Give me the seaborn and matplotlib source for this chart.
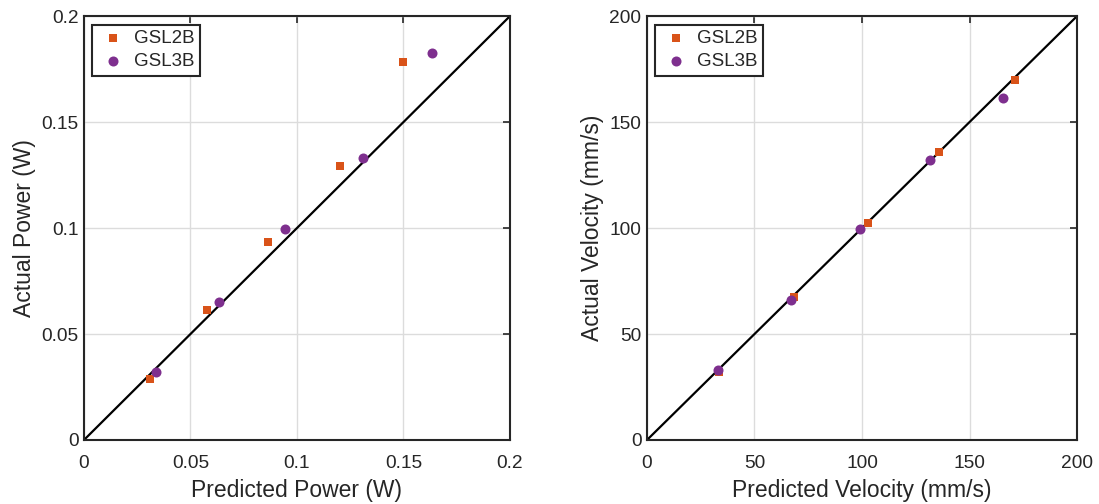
import matplotlib
matplotlib.use("Agg")
import matplotlib.pyplot as plt
import seaborn as sns
import pandas as pd

# ---- data ----
series_names = ["GSL2B", "GSL3B"]
power_pred_2b = [0.031, 0.058, 0.0865, 0.120, 0.1496]
power_act_2b = [0.029, 0.0614, 0.0933, 0.1294, 0.1783]
power_pred_3b = [0.034, 0.0635, 0.0945, 0.131, 0.1635]
power_act_3b = [0.0323, 0.065, 0.0995, 0.133, 0.1827]

vel_pred_2b = [33.6, 68.5, 102.7, 135.6, 171.0]
vel_act_2b = [32.0, 67.5, 102.2, 135.8, 170.0]
vel_pred_3b = [32.8, 66.8, 99.3, 131.5, 165.6]
vel_act_3b = [33.1, 65.9, 99.5, 132.2, 161.5]

power_ticks = [0, 0.05, 0.1, 0.15, 0.2]
power_tick_labels = ["0", "0.05", "0.1", "0.15", "0.2"]
vel_ticks = [0, 50, 100, 150, 200]
vel_tick_labels = ["0", "50", "100", "150", "200"]

colors = {"GSL2B": "#D95319", "GSL3B": "#7E2F8E"}
markers = {"GSL2B": "s", "GSL3B": "o"}
msizes = {"GSL2B": 34, "GSL3B": 52}

power_df = pd.DataFrame({
    "pred": power_pred_2b + power_pred_3b,
    "act": power_act_2b + power_act_3b,
    "series": ["GSL2B"] * len(power_pred_2b) + ["GSL3B"] * len(power_pred_3b),
})
vel_df = pd.DataFrame({
    "pred": vel_pred_2b + vel_pred_3b,
    "act": vel_act_2b + vel_act_3b,
    "series": ["GSL2B"] * len(vel_pred_2b) + ["GSL3B"] * len(vel_pred_3b),
})

sns.set_style("white")
plt.rcParams["font.family"] = ["Liberation Sans", "DejaVu Sans"]

fig = plt.figure(figsize=(10.99, 5.04), dpi=100)
ax1 = fig.add_axes([0.0764, 0.127, 0.3876, 0.841])
ax2 = fig.add_axes([0.5887, 0.127, 0.3913, 0.841])


def draw(ax, df, ticks, labels, lim, xlabel, ylabel):
    ax.grid(True, color="#dcdcdc", linewidth=1.0, zorder=0)
    ax.set_axisbelow(True)
    ax.plot(lim, lim, color="black", linewidth=1.6, zorder=2)
    for name in series_names:
        sub = df[df["series"] == name]
        sns.scatterplot(data=sub, x="pred", y="act", ax=ax, color=colors[name],
                        marker=markers[name], s=msizes[name], linewidth=0,
                        label=name, zorder=3)
    ax.set_xlim(lim)
    ax.set_ylim(lim)
    ax.set_xticks(ticks)
    ax.set_xticklabels(labels)
    ax.set_yticks(ticks)
    ax.set_yticklabels(labels)
    ax.tick_params(direction="in", length=5, width=1.2, labelsize=13.8,
                   top=True, right=True, colors="#262626", labelcolor="#262626")
    ax.tick_params(axis="x", pad=11)
    ax.tick_params(axis="y", pad=4)
    ax.set_xlabel(xlabel, fontsize=16.5, color="#262626", labelpad=5)
    ax.set_ylabel(ylabel, fontsize=16.5, color="#262626", labelpad=4)
    for sp in ax.spines.values():
        sp.set_visible(True)
        sp.set_color("#262626")
        sp.set_linewidth(1.5)
    leg = ax.legend(loc="upper left", fontsize=13.5, frameon=True, fancybox=False,
                    edgecolor="#262626", framealpha=1, borderpad=0.3,
                    handletextpad=0.3, borderaxespad=0.45, labelspacing=0.3,
                    handlelength=1.6)
    leg.get_frame().set_linewidth(1.5)


draw(ax1, power_df, power_ticks, power_tick_labels, [0, 0.2],
     "Predicted Power (W)", "Actual Power (W)")
draw(ax2, vel_df, vel_ticks, vel_tick_labels, [0, 200],
     "Predicted Velocity (mm/s)", "Actual Velocity (mm/s)")

fig.savefig("out.png", dpi=100)
